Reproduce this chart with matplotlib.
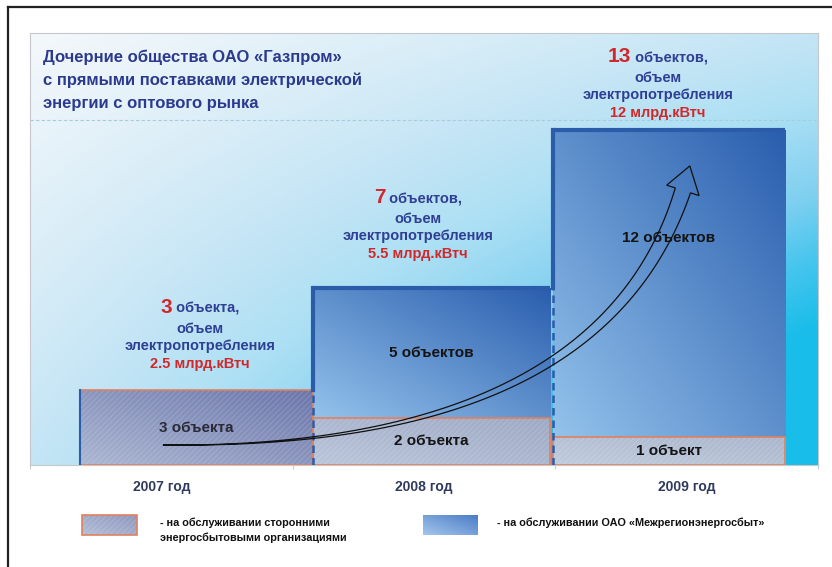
import matplotlib
matplotlib.use('Agg')
import matplotlib.pyplot as plt
import matplotlib.transforms as mtransforms
import numpy as np
from matplotlib import font_manager
from matplotlib.colors import to_rgb
from matplotlib.patches import Polygon, Rectangle

plt.rcParams['font.family'] = ['Liberation Sans', 'DejaVu Sans']
plt.rcParams['hatch.linewidth'] = 0.4

# data
years = ['2007 год', '2008 год', '2009 год']
objects_total = [3, 7, 13]
objects_third = [3, 2, 1]
objects_mrg = [0, 5, 12]
consumption = ['2.5', '5.5', '12']
# segment heights as drawn in the picture (roughly follow consumption)
height_third = [2.5, 1.57, 0.93]
height_mrg = [0.0, 4.33, 10.23]

title_lines = ['Дочерние общества ОАО «Газпром»',
               'с прямыми поставками электрической',
               'энергии с оптового рынка']
legend_third = ['- на обслуживании сторонними', 'энергосбытовыми организациями']
legend_mrg = '- на обслуживании ОАО «Межрегионэнергосбыт»'

# layout
bar_left = [0.19, 1.076, 1.99]
bar_width = [0.886, 0.905, 0.885]
annot_x = [0.647, 1.477, 2.391]
annot_y = [5.07, 8.73, 13.43]
inner_frac = [0.5, 0.5, 0.65]

RED = '#d0282a'
BLUE_TXT = '#2f3f94'
TITLE = '#2b3a8e'
EDGE_BLUE = '#2a5caa'
ORANGE = '#e2805f'

W, H = 832, 567

installed = {f.name for f in font_manager.fontManager.ttflist}
if 'Liberation Sans Narrow' in installed:
    narrow, legend_size = ['Liberation Sans Narrow', 'Liberation Sans'], 8.5
else:
    narrow, legend_size = ['Liberation Sans', 'DejaVu Sans'], 7.8


def plural(n):
    if n % 10 == 1 and n % 100 != 11:
        return 'объект'
    if n % 10 in (2, 3, 4) and n % 100 not in (12, 13, 14):
        return 'объекта'
    return 'объектов'


def gradient(ax, x0, x1, y0, y1, c_light, c_dark, z):
    xs, ys = np.meshgrid(np.linspace(0, 1, 64), np.linspace(0, 1, 64))
    t = 0.5 * xs + 0.5 * ys
    a = np.array(to_rgb(c_light))
    b = np.array(to_rgb(c_dark))
    img = a + (b - a) * t[..., None]
    ax.imshow(img, extent=(x0, x1, y0, y1), origin='lower', aspect='auto',
              interpolation='bilinear', zorder=z)


def curved_arrow(ax, p0, pc, p1, tail_max, head_len, head_w):
    # hollow arrow along a quadratic curve, tail tapering to a point (pixels)
    P0, PC, P1 = (ax.transData.transform(p) for p in (p0, pc, p1))
    ts = np.linspace(0, 1, 500)[:, None]
    pts = (1 - ts) ** 2 * P0 + 2 * ts * (1 - ts) * PC + ts ** 2 * P1
    s = np.concatenate([[0], np.cumsum(np.hypot(*np.diff(pts, axis=0).T))])
    base = np.searchsorted(s, s[-1] - head_len)
    shaft = pts[:base + 1]
    d = np.gradient(shaft, axis=0)
    d /= np.hypot(d[:, 0], d[:, 1])[:, None]
    nrm = np.column_stack([-d[:, 1], d[:, 0]])
    w = tail_max / 2 * (s[:base + 1] / s[base]) ** 1.6
    left = shaft + nrm * w[:, None]
    right = shaft - nrm * w[:, None]
    nb = nrm[-1]
    poly = np.vstack([right, shaft[-1] - nb * head_w / 2, pts[-1],
                      shaft[-1] + nb * head_w / 2, left[::-1]])
    ax.add_patch(Polygon(poly, closed=True, fill=False, ec='#111111', lw=0.9,
                         transform=mtransforms.IdentityTransform(), zorder=7))


fig = plt.figure(figsize=(8.32, 5.67), dpi=100)

ax = fig.add_axes([30 / W, (H - 465) / H, 788 / W, 432 / H])

bg = fig.add_axes([0, 0, 1, 1])
bg.set_zorder(3)
bg.axis('off')
bg.patch.set_alpha(0)
bg.plot([8, 8], [7, H], color='#222222', lw=1.6)
bg.plot([8, W], [7, 7], color='#222222', lw=1.6)

# panel background (row 0 = top of panel)
nx, ny = 300, 200
xs, ys = np.meshgrid(np.linspace(0, 1, nx), np.linspace(0, 1, ny))
t = np.clip(0.35 * ys + xs * (0.35 + 0.6 * ys), 0, 1)
stops = [0.0, 0.35, 0.5, 0.7, 0.85, 1.0]
cols = np.array([to_rgb(c) for c in ['#f4f8fb', '#c4e5f5', '#ade0f4', '#80d0f0', '#45c5ee', '#18bde9']])
bg_img = np.stack([np.interp(t, stops, cols[:, k]) for k in range(3)], axis=-1)
ax.imshow(bg_img, extent=(0, 3, 0, 14.4), origin='upper', aspect='auto', zorder=0)
ax.axhline(11.5, color='#a6cce0', ls=(0, (3, 2)), lw=0.8, zorder=1)

gray_cols = [('#abb7d2', '#6c76ab'), ('#bac6da', '#9ea9c5'), ('#c0ccdd', '#a9b6cc')]

for i in range(3):
    x0 = bar_left[i]
    x1 = x0 + bar_width[i]
    h3 = height_third[i]
    gradient(ax, x0, x1, 0, h3, gray_cols[i][0], gray_cols[i][1], 2)
    ax.add_patch(Rectangle((x0, 0), bar_width[i], h3, fill=False, hatch='//////',
                           ec=(1, 1, 1, 0.25), lw=0, zorder=3))
    ax.add_patch(Rectangle((x0, 0), bar_width[i], h3, fill=False, ec=ORANGE,
                           lw=1.2, zorder=4))
    ax.text((x0 + x1) / 2, h3 / 2, f'{objects_third[i]} {plural(objects_third[i])}',
            ha='center', va='center', fontsize=11, fontweight='bold',
            color='#2a2a38' if i == 0 else '#141414', zorder=6)

    if height_mrg[i] > 0:
        top = h3 + height_mrg[i]
        prev_top = height_third[i - 1] + height_mrg[i - 1]
        gradient(ax, x0, x1, h3, top, '#93c2eb', '#2a5eae', 2)
        ax.plot([x0, x1], [top, top], color=EDGE_BLUE, lw=3, zorder=5,
                solid_capstyle='butt')
        ax.plot([x0, x0], [prev_top, top], color=EDGE_BLUE, lw=3, zorder=5,
                solid_capstyle='projecting')
        ax.plot([x0, x0], [0, prev_top], color=EDGE_BLUE, lw=1.8, zorder=5,
                ls=(0, (3, 2)))
        ax.text((x0 + x1) / 2, h3 + height_mrg[i] * inner_frac[i],
                f'{objects_mrg[i]} {plural(objects_mrg[i])}',
                ha='center', va='center', fontsize=11, fontweight='bold',
                color='#141414', zorder=6)
    else:
        ax.plot([x0, x0], [0, h3], color=EDGE_BLUE, lw=1.5, zorder=5)

ax.set_xlim(0, 3)
ax.set_ylim(0, 14.4)
bg.set_xlim(0, W)
bg.set_ylim(H, 0)

# growth arrow
curved_arrow(ax, (0.506, 0.667), (2.246, 0.5), (2.512, 9.97),
             tail_max=16, head_len=26, head_w=34)

# annotations above bars
fig.canvas.draw()
renderer = fig.canvas.get_renderer()
for i in range(3):
    x, y = annot_x[i], annot_y[i]
    t1 = ax.text(x, y, str(objects_total[i]), color=RED, fontsize=15,
                 fontweight='bold', ha='left', va='baseline', zorder=6)
    t2 = ax.text(x, y, ' ' + plural(objects_total[i]) + ',', color=BLUE_TXT,
                 fontsize=10.5, fontweight='bold', ha='left', va='baseline', zorder=6)
    w1 = t1.get_window_extent(renderer).width
    w2 = t2.get_window_extent(renderer).width
    t1.set_transform(mtransforms.offset_copy(ax.transData, fig=fig,
                                             x=-(w1 + w2) / 2 * 72 / 100, units='points'))
    t2.set_transform(mtransforms.offset_copy(ax.transData, fig=fig,
                                             x=(w1 - (w1 + w2) / 2) * 72 / 100, units='points'))
    lines = [('объем', BLUE_TXT, 20), ('электропотребления', BLUE_TXT, 37),
             (f'{consumption[i]} млрд.кВтч', RED, 55)]
    for txt, col, dy in lines:
        ax.text(x, y, txt, color=col, fontsize=10.5, fontweight='bold',
                ha='center', va='baseline', zorder=6,
                transform=mtransforms.offset_copy(ax.transData, fig=fig,
                                                  y=-dy * 72 / 100, units='points'))

ax.set_xticks([0, 1, 2, 3], [])
ax.set_xticks([0.5, 1.5, 2.5], years, minor=True)
ax.set_yticks([])
ax.tick_params(axis='x', which='major', length=3, color='#c8ccd0')
ax.tick_params(axis='x', which='minor', length=0, pad=11)
for lab in ax.get_xticklabels(minor=True):
    lab.set_family(narrow)
    lab.set_fontweight('bold')
    lab.set_fontsize(10.5 if narrow[0].endswith('Narrow') else 10)
    lab.set_color('#303a5e')
for s in ax.spines.values():
    s.set_color('#c4c8cc')
    s.set_linewidth(0.8)

# title
for k, line in enumerate(title_lines):
    bg.text(43, 62 + 23 * k, line, color=TITLE, fontsize=12, fontweight='bold',
            ha='left', va='baseline')

# legend
gradient(bg, 82, 137, 535, 515, '#b4bfd6', '#8e98bf', 2)
bg.add_patch(Rectangle((82, 515), 55, 20, fill=False, hatch='//////',
                       ec=(1, 1, 1, 0.25), lw=0, zorder=3))
bg.add_patch(Rectangle((82, 515), 55, 20, fill=False, ec=ORANGE, lw=1.2, zorder=4))
gradient(bg, 423, 478, 535, 515, '#a4c6ec', '#4a7cc6', 2)
bg.text(160, 526, legend_third[0], family=narrow, fontweight='bold', fontsize=legend_size,
        ha='left', va='baseline', color='#111111')
bg.text(160, 541, legend_third[1], family=narrow, fontweight='bold', fontsize=legend_size,
        ha='left', va='baseline', color='#111111')
bg.text(497, 526, legend_mrg, family=narrow, fontweight='bold', fontsize=legend_size,
        ha='left', va='baseline', color='#111111')
bg.set_xlim(0, W)
bg.set_ylim(H, 0)

fig.savefig('out.png', dpi=100, facecolor='white')
